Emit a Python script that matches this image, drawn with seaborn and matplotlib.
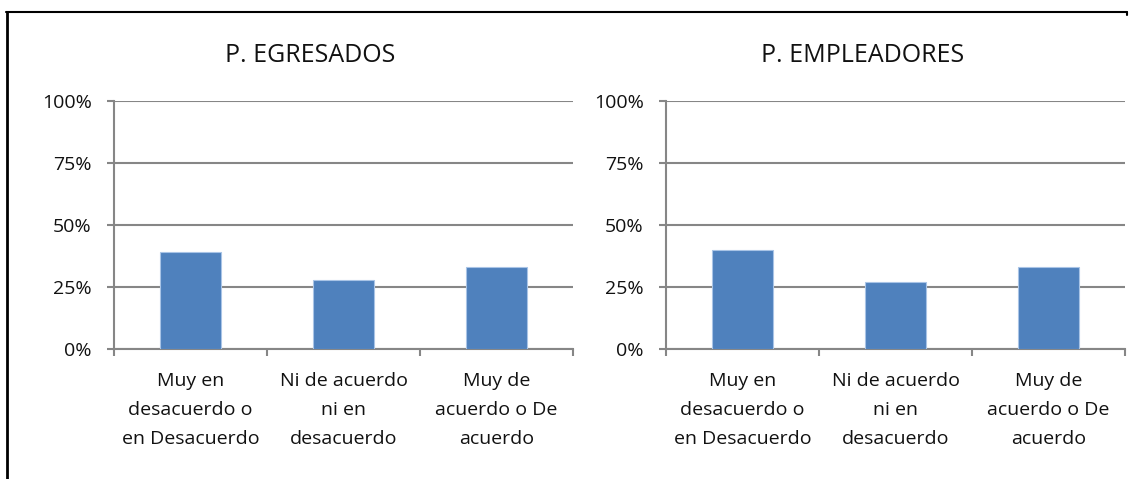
import matplotlib
matplotlib.use('Agg')
import matplotlib.pyplot as plt
from matplotlib.lines import Line2D
from matplotlib.ticker import FixedLocator
import pandas as pd
import seaborn as sns

sns.set_theme(style='white')
plt.rcParams['font.family'] = ['Open Sans', 'DejaVu Sans']

# Data
categories = ['Muy en\ndesacuerdo o\nen Desacuerdo',
              'Ni de acuerdo\nni en\ndesacuerdo',
              'Muy de\nacuerdo o De\nacuerdo']
egresados = [39, 28, 33]
empleadores = [40, 27, 33]
panel_titles = ['P. EGRESADOS', 'P. EMPLEADORES']
yticks = [0, 25, 50, 75, 100]
yticklabels = ['0%', '25%', '50%', '75%', '100%']

bar_color = '#4F81BD'
grid_color = '#868686'

fig = plt.figure(figsize=(11.29, 4.79), dpi=100)
W, H = 1129, 479
ax_left = fig.add_axes([114 / W, 1 - 349 / H, 459 / W, 248 / H])
ax_right = fig.add_axes([666 / W, 1 - 349 / H, 459 / W, 248 / H])

for ax, vals, title in zip([ax_left, ax_right], [egresados, empleadores], panel_titles):
    df = pd.DataFrame({'cat': categories, 'val': vals})
    sns.barplot(data=df, x='cat', y='val', color=bar_color, saturation=1,
                width=0.4, edgecolor='#A9C4E6', linewidth=0.8, ax=ax, zorder=3)
    ax.set_ylim(0, 100)
    ax.set_xlim(-0.5, 2.5)
    ax.set_yticks(yticks)
    ax.set_yticklabels(yticklabels)
    ax.yaxis.grid(True, color=grid_color, linewidth=1.5)
    ax.set_axisbelow(True)
    ax.set_xlabel('')
    ax.set_ylabel('')
    for s in ['top', 'right']:
        ax.spines[s].set_visible(False)
    for s in ['left', 'bottom']:
        ax.spines[s].set_color(grid_color)
        ax.spines[s].set_linewidth(1.5)
    ax.tick_params(axis='y', which='major', left=True, length=5, width=1.5,
                   color=grid_color, labelsize=14, labelcolor='#111111', pad=11)
    ax.tick_params(axis='x', which='major', bottom=False, length=0,
                   labelsize=14, labelcolor='#111111', pad=16.5)
    ax.xaxis.set_minor_locator(FixedLocator([-0.5, 0.5, 1.5, 2.5]))
    ax.tick_params(axis='x', which='minor', bottom=True, length=5, width=1.5,
                   color=grid_color)
    for lbl in ax.get_xticklabels():
        lbl.set_linespacing(1.8)
    # the original title is centred over the whole panel, labels included
    ax.set_title(title, fontsize=18, color='#111111', pad=28, x=0.428)

# Outer frame of the original chart area
fig.add_artist(Line2D([6 / W, 1127 / W], [1 - 12 / H, 1 - 12 / H],
                      color='black', linewidth=1.5, transform=fig.transFigure))
fig.add_artist(Line2D([7 / W, 7 / W], [1 - 12 / H, 0],
                      color='black', linewidth=2, transform=fig.transFigure))
fig.add_artist(Line2D([1127 / W, 1127 / W], [1 - 12 / H, 1 - 15 / H],
                      color='black', linewidth=1.5, transform=fig.transFigure))

fig.savefig('out.png', dpi=100)
